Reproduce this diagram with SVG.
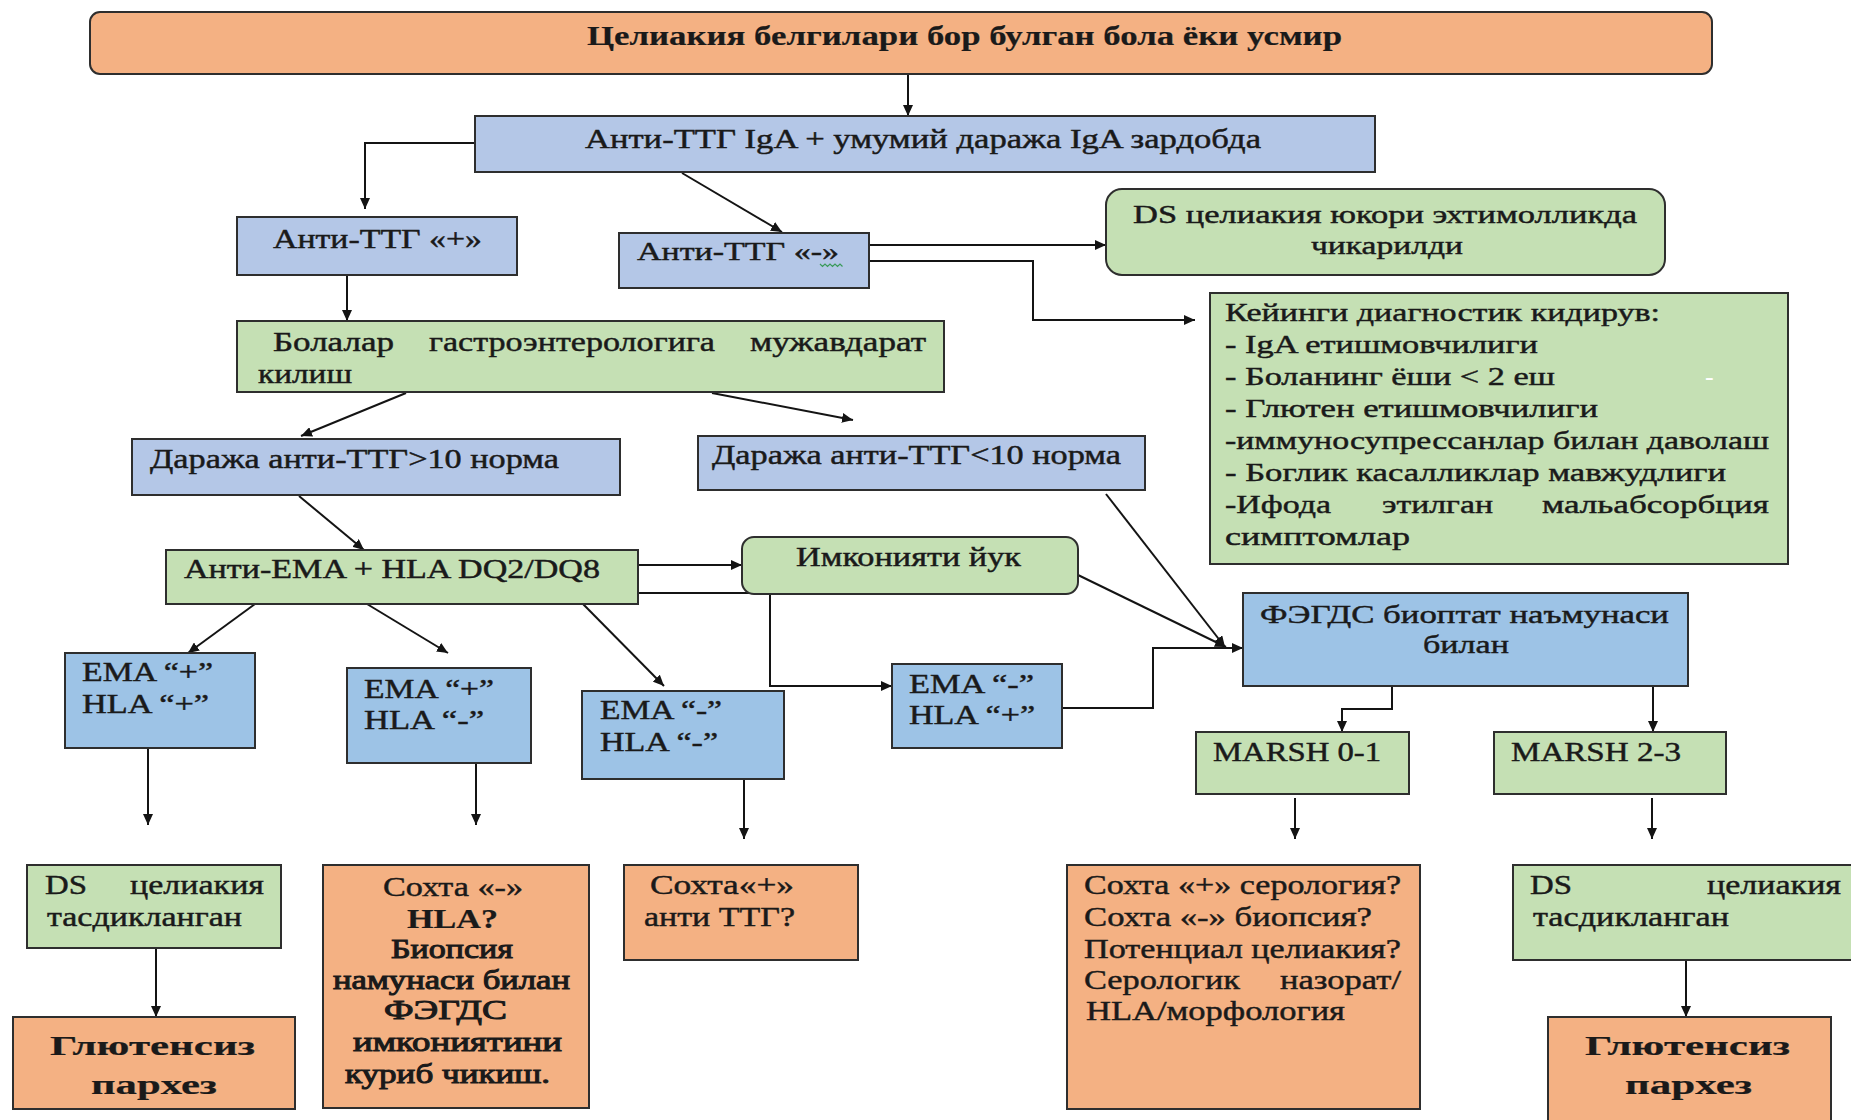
<svg xmlns="http://www.w3.org/2000/svg" width="1851" height="1120" viewBox="0 0 1851 1120">
<style>
text{font-family:"Liberation Serif","Times New Roman",serif;fill:#1a1a1a;stroke:#1a1a1a;stroke-width:0.45;font-size:27px}
.b{font-weight:bold;stroke-width:0.2}
.s{font-size:26px}
.m{font-size:28px}
.box{stroke:#2e2e2e;stroke-width:2}
.or{fill:#F4B183}
.lb{fill:#B4C7E7}
.sb{fill:#9DC3E6}
.gr{fill:#C5E0B4}
.ln{fill:none;stroke:#141414;stroke-width:2}
.ar{marker-end:url(#ah)}
</style>
<defs>
<marker id="ah" markerUnits="userSpaceOnUse" markerWidth="12" markerHeight="10" refX="11" refY="5" orient="auto">
<path d="M0,0 L11,5 L0,10 z" fill="#141414"/>
</marker>
</defs>
<rect width="1851" height="1120" fill="#fff"/>

<g id="connectors">
<path class="ln ar" d="M908,74 V116"/>
<path class="ln ar" d="M475,143 H365 V209"/>
<path class="ln ar" d="M682,173 L782,232"/>
<path class="ln ar" d="M869,245 H1106"/>
<path class="ln ar" d="M869,261 H1033 V320 H1195"/>
<path class="ln ar" d="M347,275 V321"/>
<path class="ln ar" d="M406,393 L301,436"/>
<path class="ln ar" d="M712,393 L853,420"/>
<path class="ln ar" d="M299,496 L364,550"/>
<path class="ln ar" d="M638,565 H742"/>
<path class="ln ar" d="M638,593 H770 V686 H892"/>
<path class="ln ar" d="M255,604 L188,653"/>
<path class="ln ar" d="M367,604 L448,653"/>
<path class="ln ar" d="M583,604 L664,686"/>
<path class="ln ar" d="M1078,575 L1226,647"/>
<path class="ln ar" d="M1106,494 L1225,647"/>
<path class="ln ar" d="M1062,708 H1153 V648 H1243"/>
<path class="ln ar" d="M1392,686 V709 H1342 V732"/>
<path class="ln ar" d="M1653,679 V732"/>
<path class="ln ar" d="M1295,798 V839"/>
<path class="ln ar" d="M1652,798 V839"/>
<path class="ln ar" d="M1686,960 V1017"/>
<path class="ln ar" d="M148,748 V825"/>
<path class="ln ar" d="M156,948 V1017"/>
<path class="ln ar" d="M476,763 V825"/>
<path class="ln ar" d="M744,779 V839"/>
</g>

<g id="n-top">
<rect class="box or" x="90" y="12" width="1622" height="62" rx="10" stroke-width="2.5"/>
<text class="b" x="587" y="45" font-size="27" textLength="755" lengthAdjust="spacingAndGlyphs">Целиакия белгилари бор булган бола ёки усмир</text>
</g>

<g id="n-antittg">
<rect class="box lb" x="475" y="116" width="900" height="56"/>
<text x="585" y="148" font-size="29" textLength="676" lengthAdjust="spacingAndGlyphs">Анти-ТТГ IgA + умумий даража IgA зардобда</text>
</g>

<g id="n-ttg-pos">
<rect class="box lb" x="237" y="217" width="280" height="58"/>
<text x="273" y="248" textLength="209" lengthAdjust="spacingAndGlyphs">Анти-ТТГ «+»</text>
</g>

<g id="n-ttg-neg">
<rect class="box lb" x="619" y="233" width="250" height="55"/>
<text class="s" x="637" y="260" textLength="202" lengthAdjust="spacingAndGlyphs">Анти-ТТГ «-»</text>
<path d="M820,264 l2.5,2.5 l2.5,-2.5 l2.5,2.5 l2.5,-2.5 l2.5,2.5 l2.5,-2.5 l2.5,2.5 l2.5,-2.5 l2.5,2.5" fill="none" stroke="#3a9a5a" stroke-width="1.2"/>
</g>

<g id="n-ds-excluded">
<rect class="box gr" x="1106" y="189" width="559" height="86" rx="16"/>
<text class="s" x="1133" y="223" textLength="504" lengthAdjust="spacingAndGlyphs">DS целиакия юкори эхтимолликда</text>
<text class="s" x="1311" y="254" textLength="152" lengthAdjust="spacingAndGlyphs">чикарилди</text>
</g>

<g id="n-further">
<rect class="box gr" x="1210" y="293" width="578" height="271"/>
<text class="s" x="1225" y="321" textLength="435" lengthAdjust="spacingAndGlyphs">Кейинги диагностик кидирув:</text>
<text class="s" x="1225" y="353" textLength="313" lengthAdjust="spacingAndGlyphs">- IgA етишмовчилиги</text>
<text class="s" x="1225" y="385" textLength="330" lengthAdjust="spacingAndGlyphs">- Боланинг ёши &lt; 2 еш</text>
<text class="s" x="1705" y="385" style="fill:#ffffff;stroke:none">-</text>
<text class="s" x="1225" y="417" textLength="373" lengthAdjust="spacingAndGlyphs">- Глютен етишмовчилиги</text>
<text class="s" x="1225" y="449" textLength="544" lengthAdjust="spacingAndGlyphs">-иммуносупрессанлар билан даволаш</text>
<text class="s" x="1225" y="481" textLength="501" lengthAdjust="spacingAndGlyphs">- Боглик касалликлар мавжудлиги</text>
<text class="s" x="1225" y="513" textLength="106" lengthAdjust="spacingAndGlyphs">-Ифода</text>
<text class="s" x="1382" y="513" textLength="111" lengthAdjust="spacingAndGlyphs">этилган</text>
<text class="s" x="1542" y="513" textLength="227" lengthAdjust="spacingAndGlyphs">мальабсорбция</text>
<text class="s" x="1225" y="545" textLength="185" lengthAdjust="spacingAndGlyphs">симптомлар</text>
</g>

<g id="n-gastro">
<rect class="box gr" x="237" y="321" width="707" height="71"/>
<text x="273" y="351" textLength="121" lengthAdjust="spacingAndGlyphs">Болалар</text>
<text x="429" y="351" textLength="286" lengthAdjust="spacingAndGlyphs">гастроэнтерологига</text>
<text x="750" y="351" textLength="176" lengthAdjust="spacingAndGlyphs">мужавдарат</text>
<text x="258" y="383" textLength="94" lengthAdjust="spacingAndGlyphs">килиш</text>
</g>

<g id="n-level-high">
<rect class="box lb" x="132" y="439" width="488" height="56"/>
<text x="150" y="468" textLength="409" lengthAdjust="spacingAndGlyphs">Даража анти-ТТГ&gt;10 норма</text>
</g>

<g id="n-level-low">
<rect class="box lb" x="698" y="436" width="447" height="54"/>
<text x="712" y="464" textLength="409" lengthAdjust="spacingAndGlyphs">Даража анти-ТТГ&lt;10 норма</text>
</g>

<g id="n-ema-hla">
<rect class="box gr" x="166" y="550" width="472" height="54"/>
<text x="184" y="578" textLength="416" lengthAdjust="spacingAndGlyphs">Анти-EMA + HLA DQ2/DQ8</text>
</g>

<g id="n-no-option">
<rect class="box gr" x="742" y="537" width="336" height="57" rx="12"/>
<text x="796" y="566" textLength="225" lengthAdjust="spacingAndGlyphs">Имконияти йук</text>
</g>

<g id="n-ema-pp">
<rect class="box sb" x="65" y="653" width="190" height="95"/>
<text x="82" y="681" textLength="131" lengthAdjust="spacingAndGlyphs">EMA “+”</text>
<text x="82" y="713" textLength="127" lengthAdjust="spacingAndGlyphs">HLA “+”</text>
</g>

<g id="n-ema-pm">
<rect class="box sb" x="347" y="668" width="184" height="95"/>
<text x="364" y="698" textLength="130" lengthAdjust="spacingAndGlyphs">EMA “+”</text>
<text x="364" y="729" textLength="120" lengthAdjust="spacingAndGlyphs">HLA “-”</text>
</g>

<g id="n-ema-mm">
<rect class="box sb" x="582" y="691" width="202" height="88"/>
<text x="600" y="719" textLength="122" lengthAdjust="spacingAndGlyphs">EMA “-”</text>
<text x="600" y="751" textLength="118" lengthAdjust="spacingAndGlyphs">HLA “-”</text>
</g>

<g id="n-ema-mp">
<rect class="box sb" x="892" y="664" width="170" height="84"/>
<text x="909" y="693" textLength="125" lengthAdjust="spacingAndGlyphs">EMA “-”</text>
<text x="909" y="724" textLength="126" lengthAdjust="spacingAndGlyphs">HLA “+”</text>
</g>

<g id="n-fegds">
<rect class="box sb" x="1243" y="593" width="445" height="93"/>
<text class="s" x="1260" y="623" textLength="409" lengthAdjust="spacingAndGlyphs">ФЭГДС биоптат наъмунаси</text>
<text class="s" x="1423" y="653" textLength="86" lengthAdjust="spacingAndGlyphs">билан</text>
</g>

<g id="n-marsh01">
<rect class="box gr" x="1196" y="732" width="213" height="62"/>
<text x="1213" y="761" textLength="168" lengthAdjust="spacingAndGlyphs">MARSH 0-1</text>
</g>

<g id="n-marsh23">
<rect class="box gr" x="1494" y="732" width="232" height="62"/>
<text x="1511" y="761" textLength="170" lengthAdjust="spacingAndGlyphs">MARSH 2-3</text>
</g>

<g id="n-ds-left">
<rect class="box gr" x="27" y="865" width="254" height="83"/>
<text class="m" x="45" y="894" textLength="42" lengthAdjust="spacingAndGlyphs">DS</text>
<text class="m" x="130" y="894" textLength="134" lengthAdjust="spacingAndGlyphs">целиакия</text>
<text class="m" x="47" y="926" textLength="195" lengthAdjust="spacingAndGlyphs">тасдикланган</text>
</g>

<g id="n-diet-left">
<rect class="box or" x="13" y="1017" width="282" height="92"/>
<text class="b" x="50" y="1055" font-size="32" textLength="205" lengthAdjust="spacingAndGlyphs">Глютенсиз</text>
<text class="b" x="91" y="1094" font-size="32" textLength="126" lengthAdjust="spacingAndGlyphs">пархез</text>
</g>

<g id="n-false-neg">
<rect class="box or" x="323" y="865" width="266" height="243"/>
<text class="m" x="383" y="896" textLength="140" lengthAdjust="spacingAndGlyphs">Сохта «-»</text>
<text class="m b" x="407" y="928" textLength="91" lengthAdjust="spacingAndGlyphs">HLA?</text>
<text class="m" x="391" y="958" textLength="122" lengthAdjust="spacingAndGlyphs" style="stroke-width:1">Биопсия</text>
<text class="m" x="333" y="989" textLength="237" lengthAdjust="spacingAndGlyphs" style="stroke-width:1">намунаси билан</text>
<text class="m" x="384" y="1019" textLength="123" lengthAdjust="spacingAndGlyphs" style="stroke-width:1">ФЭГДС</text>
<text class="m" x="353" y="1051" textLength="209" lengthAdjust="spacingAndGlyphs" style="stroke-width:1">имкониятини</text>
<text class="m" x="345" y="1083" textLength="205" lengthAdjust="spacingAndGlyphs" style="stroke-width:1">куриб чикиш.</text>
</g>

<g id="n-false-pos">
<rect class="box or" x="624" y="865" width="234" height="95"/>
<text class="m" x="650" y="894" textLength="144" lengthAdjust="spacingAndGlyphs">Сохта«+»</text>
<text class="m" x="644" y="926" textLength="151" lengthAdjust="spacingAndGlyphs">анти ТТГ?</text>
</g>

<g id="n-questions">
<rect class="box or" x="1067" y="865" width="353" height="244"/>
<text class="m" x="1084" y="894" textLength="317" lengthAdjust="spacingAndGlyphs">Сохта «+» серология?</text>
<text class="m" x="1084" y="926" textLength="288" lengthAdjust="spacingAndGlyphs">Сохта «-» биопсия?</text>
<text class="m" x="1084" y="958" textLength="317" lengthAdjust="spacingAndGlyphs">Потенциал целиакия?</text>
<text class="m" x="1084" y="989" textLength="156" lengthAdjust="spacingAndGlyphs">Серологик</text>
<text class="m" x="1280" y="989" textLength="121" lengthAdjust="spacingAndGlyphs">назорат/</text>
<text class="m" x="1086" y="1020" textLength="259" lengthAdjust="spacingAndGlyphs">HLA/морфология</text>
</g>

<g id="n-ds-right">
<rect class="box gr" x="1513" y="865" width="345" height="95"/>
<text class="m" x="1530" y="894" textLength="42" lengthAdjust="spacingAndGlyphs">DS</text>
<text class="m" x="1707" y="894" textLength="134" lengthAdjust="spacingAndGlyphs">целиакия</text>
<text class="m" x="1533" y="926" textLength="196" lengthAdjust="spacingAndGlyphs">тасдикланган</text>
</g>

<g id="n-diet-right">
<rect class="box or" x="1548" y="1017" width="283" height="110"/>
<text class="b" x="1585" y="1055" font-size="32" textLength="205" lengthAdjust="spacingAndGlyphs">Глютенсиз</text>
<text class="b" x="1625" y="1094" font-size="32" textLength="127" lengthAdjust="spacingAndGlyphs">пархез</text>
</g>
</svg>
